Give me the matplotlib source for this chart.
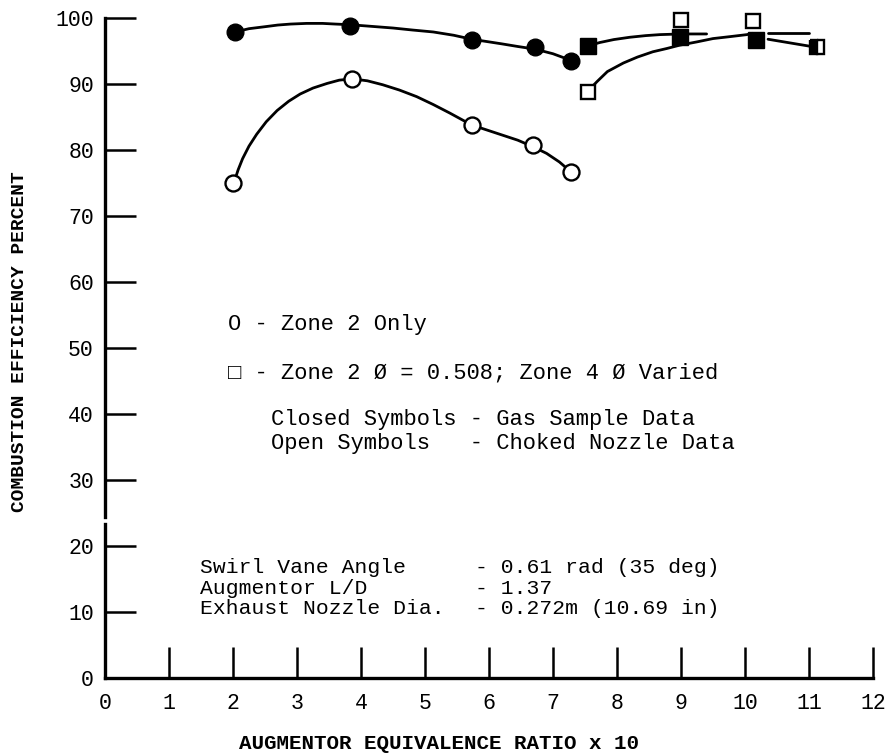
import matplotlib.pyplot as plt
import numpy as np

# data
# zone 2 only, closed symbols (gas sample)
zone2_closed_x = [2.03, 3.83, 5.73, 6.72, 7.28]
zone2_closed_y = [97.9, 98.8, 96.7, 95.6, 93.5]
# zone 2 only, open symbols (choked nozzle)
zone2_open_x = [2.0, 3.86, 5.73, 6.69, 7.28]
zone2_open_y = [75.0, 90.8, 83.8, 80.8, 76.7]
# zone 2 + zone 4, closed symbols
zone4_closed_x = [7.55, 8.98, 10.17]
zone4_closed_y = [95.8, 97.1, 96.7]
# zone 2 + zone 4, open symbols
zone4_open_x = [7.55, 9.0, 10.12]
zone4_open_y = [88.8, 99.7, 99.5]
# half filled square at the end
zone4_half_x = [11.12]
zone4_half_y = [95.6]

# faired curves
curve_zone2_closed_x = [2.03, 2.25, 2.5, 2.7, 2.9, 3.15, 3.4, 3.6, 3.83, 4.1, 4.5, 4.8, 5.13, 5.45, 5.73, 6.0, 6.2, 6.45, 6.72, 7.0, 7.28]
curve_zone2_closed_y = [97.9, 98.4, 98.7, 98.95, 99.1, 99.2, 99.2, 99.1, 99.0, 98.8, 98.5, 98.2, 97.9, 97.4, 96.8, 96.4, 96.1, 95.7, 95.3, 94.6, 93.6]
curve_zone2_open_x = [2.03, 2.08, 2.15, 2.25, 2.37, 2.52, 2.69, 2.87, 3.05, 3.25, 3.47, 3.66, 3.86,
                      4.1, 4.34, 4.6, 4.87, 5.13, 5.39, 5.73, 5.95, 6.2, 6.45, 6.69, 6.9, 7.1, 7.28]
curve_zone2_open_y = [75.5, 77.0, 78.7, 80.6, 82.4, 84.3, 86.0, 87.4, 88.5, 89.4, 90.1, 90.6, 90.8,
                      90.5, 89.9, 89.1, 88.1, 86.9, 85.6, 83.8, 83.1, 82.3, 81.5, 80.5, 79.5, 78.2, 76.7]
curve_zone4_closed_x = [7.55, 7.73, 7.95, 8.2, 8.45, 8.67, 9.0, 9.4]
curve_zone4_closed_y = [95.8, 96.3, 96.75, 97.1, 97.35, 97.5, 97.6, 97.6]
curve_zone4_upper_x = [10.36, 11.0]
curve_zone4_upper_y = [97.7, 97.7]
curve_zone4_lower_x = [10.36, 11.1]
curve_zone4_lower_y = [96.8, 95.6]
curve_zone4_open_x = [7.55, 7.62, 7.69, 7.85, 8.1, 8.32, 8.56, 8.78, 8.98, 9.25, 9.5, 9.77, 10.03, 10.12]
curve_zone4_open_y = [88.8, 89.7, 90.4, 91.9, 93.2, 94.1, 94.9, 95.4, 95.9, 96.4, 96.9, 97.2, 97.5, 97.7]

x_ticks = list(range(0, 13))
y_ticks = list(range(0, 101, 10))

font = ['Liberation Mono', 'DejaVu Sans Mono', 'DejaVu Sans']
plt.rcParams['font.family'] = font

fig = plt.figure(figsize=(8.92, 7.55), dpi=100)
ax = fig.add_axes([0.1177, 0.102, 0.861, 0.874])
ax.set_xlim(0, 12)
ax.set_ylim(0, 100)

lw = 2.0
for cx, cy in [(curve_zone2_closed_x, curve_zone2_closed_y),
               (curve_zone2_open_x, curve_zone2_open_y),
               (curve_zone4_closed_x, curve_zone4_closed_y),
               (curve_zone4_upper_x, curve_zone4_upper_y),
               (curve_zone4_lower_x, curve_zone4_lower_y),
               (curve_zone4_open_x, curve_zone4_open_y)]:
    ax.plot(cx, cy, color='black', lw=lw, solid_capstyle='round', solid_joinstyle='round',
            clip_on=False, zorder=2)

ax.plot(zone2_open_x, zone2_open_y, 'o', ms=11.5, mfc='white', mec='black', mew=1.7, clip_on=False, zorder=3)
ax.plot(zone2_closed_x, zone2_closed_y, 'o', ms=12, mfc='black', mec='black', clip_on=False, zorder=3)
ax.plot(zone4_open_x, zone4_open_y, 's', ms=10.5, mfc='white', mec='black', mew=1.7, clip_on=False, zorder=3)
ax.plot(zone4_closed_x, zone4_closed_y, 's', ms=11, mfc='black', mec='black', clip_on=False, zorder=4)
ax.plot(zone4_half_x, zone4_half_y, 's', ms=10.5, fillstyle='left', mfc='black', mfcalt='white',
        mec='black', mew=1.7, clip_on=False, zorder=4)

# axes: no box, broken left spine
ax.spines['top'].set_visible(False)
ax.spines['right'].set_visible(False)
ax.spines['bottom'].set_linewidth(2.4)
ax.spines['left'].set_linewidth(2.4)
ax.spines['left'].set_bounds(24.4, 100)
ax.plot([0, 0], [0, 23.3], color='black', lw=2.4, clip_on=False, zorder=5)

ax.set_xticks(x_ticks)
ax.set_yticks(y_ticks)
ax.tick_params(axis='both', direction='in', length=22, width=1.8, labelsize=15.5, colors='black')
ax.tick_params(axis='x', pad=11)
ax.tick_params(axis='y', pad=8)

ax.set_xlabel('AUGMENTOR EQUIVALENCE RATIO x 10', fontsize=15, fontweight='bold')
ax.xaxis.set_label_coords(0.435, -0.085)
ax.set_ylabel('COMBUSTION EFFICIENCY PERCENT', fontsize=14, fontweight='bold')
ax.yaxis.set_label_coords(-0.1, 0.51)

tfs = 15.9
ax.text(1.92, 53.5, 'O - Zone 2 Only', fontsize=tfs, va='center')
ax.text(1.92, 46.2, '□ - Zone 2 Ø = 0.508; Zone 4 Ø Varied', fontsize=tfs, va='center')
ax.text(2.6, 39.1, 'Closed Symbols - Gas Sample Data', fontsize=tfs, va='center')
ax.text(2.6, 35.5, 'Open Symbols   - Choked Nozzle Data', fontsize=tfs, va='center')

bfs = 15.4
ax.text(1.48, 16.8, 'Swirl Vane Angle', fontsize=bfs, va='center')
ax.text(1.48, 13.6, 'Augmentor L/D', fontsize=bfs, va='center')
ax.text(1.48, 10.5, 'Exhaust Nozzle Dia.', fontsize=bfs, va='center')
ax.text(5.78, 16.8, '- 0.61 rad (35 deg)', fontsize=bfs, va='center')
ax.text(5.78, 13.6, '- 1.37', fontsize=bfs, va='center')
ax.text(5.78, 10.5, '- 0.272m (10.69 in)', fontsize=bfs, va='center')

plt.savefig('out.png', dpi=100)
